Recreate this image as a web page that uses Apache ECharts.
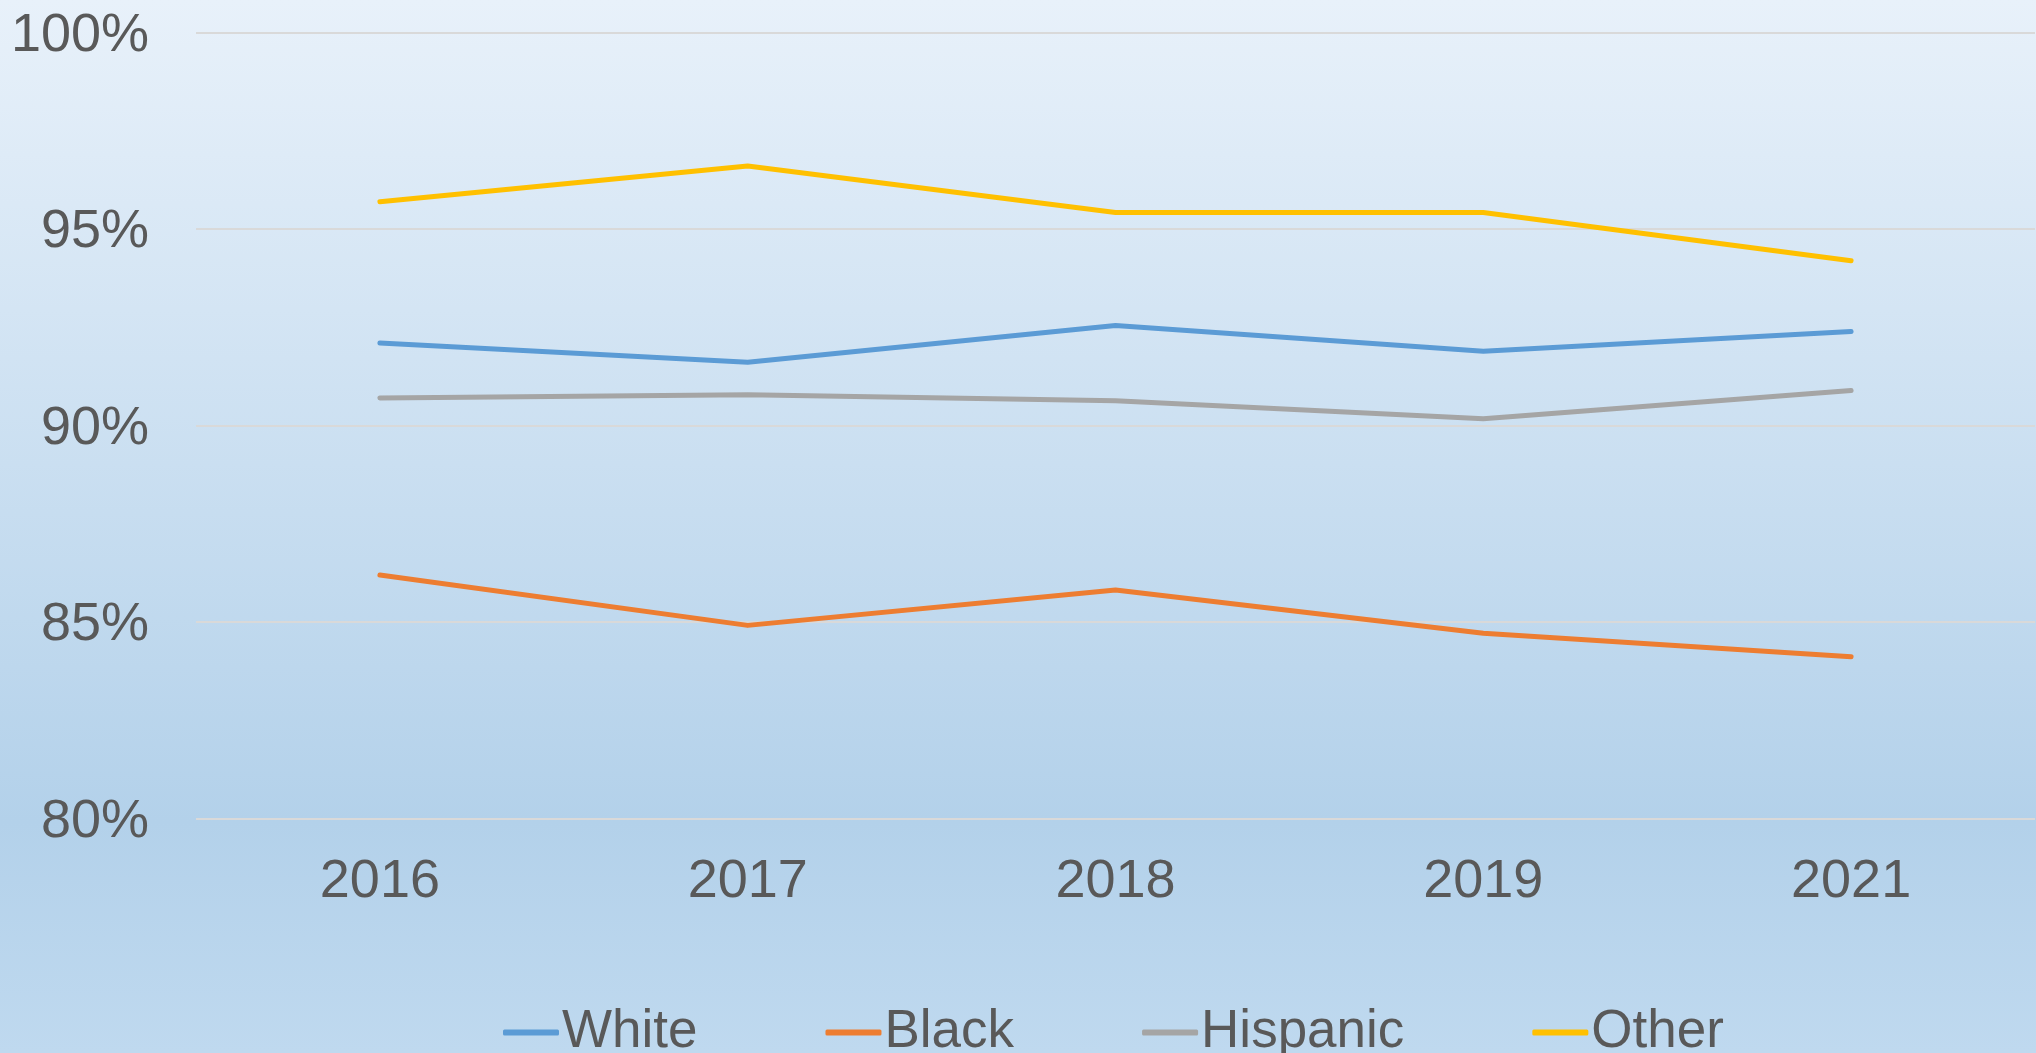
<!DOCTYPE html>
<html>
<head>
<meta charset="utf-8">
<script src="https://cdn.jsdelivr.net/npm/echarts@6/dist/echarts.min.js"></script>
<style>
  html, body { margin: 0; padding: 0; }
  .chartBox { width: 2036px; height: 1053px; }
</style>
</head>
<body>
<div class="chartBox" id="lineChart"></div>
<script>
  // years on the x axis
  var years = ['2016', '2017', '2018', '2019', '2021'];
  // percent values per group
  var white    = [92.10, 91.61, 92.54, 91.89, 92.39];
  var black    = [86.19, 84.91, 85.81, 84.71, 84.11];
  var hispanic = [90.70, 90.78, 90.63, 90.17, 90.89];
  var other    = [95.69, 96.60, 95.42, 95.42, 94.19];
  var seriesNames = ['White', 'Black', 'Hispanic', 'Other'];
  var seriesColors = ['#5b9bd5', '#ed7d31', '#a5a5a5', '#ffc000'];

  var textColor = '#595959';
  var font = '"Liberation Sans", Arial, sans-serif';

  var lineChart = echarts.init(document.getElementById('lineChart'));
  var option = {
    color: seriesColors,
    backgroundColor: {
      type: 'linear', x: 0, y: 0, x2: 0, y2: 1,
      colorStops: [
        {offset: 0, color: '#e8f1fa'},
        {offset: 0.78, color: '#b3d1ea'},
        {offset: 1, color: '#bfd9ef'}
      ]
    },
    animation: false,
    grid: {
      left: 196,
      right: 1,
      top: 32.5,
      bottom: 234.7
    },
    legend: {
      left: 498,
      top: 1001,
      itemWidth: 56,
      itemHeight: 6,
      itemGap: 128,
      icon: 'roundRect',
      textStyle: {
        color: textColor,
        fontSize: 53,
        fontFamily: font,
        padding: [0, 0, 0, -2]
      },
      data: seriesNames
    },
    xAxis: {
      type: 'category',
      data: years,
      boundaryGap: true,
      axisLine: {show: false},
      axisTick: {show: false},
      axisLabel: {
        color: textColor,
        fontSize: 54,
        fontFamily: font,
        margin: 37
      }
    },
    yAxis: {
      type: 'value',
      min: 80,
      max: 100,
      interval: 5,
      axisLine: {show: false},
      axisTick: {show: false},
      axisLabel: {
        margin: 47,
        formatter: '{a|{value}%}',
        rich: {
          a: {
            color: textColor,
            fontSize: 54,
            fontFamily: font,
            padding: [7, 0, 0, 0]
          }
        }
      },
      splitLine: {
        lineStyle: {color: '#d9d9d9', width: 2}
      }
    },
    series: []
  };

  var allData = [white, black, hispanic, other];
  for (var i = 0; i < seriesNames.length; i++) {
    option.series.push({
      name: seriesNames[i],
      type: 'line',
      data: allData[i],
      symbol: 'none',
      lineStyle: {width: 5, cap: 'round', join: 'round'}
    });
  }

  lineChart.setOption(option);
</script>
</body>
</html>
